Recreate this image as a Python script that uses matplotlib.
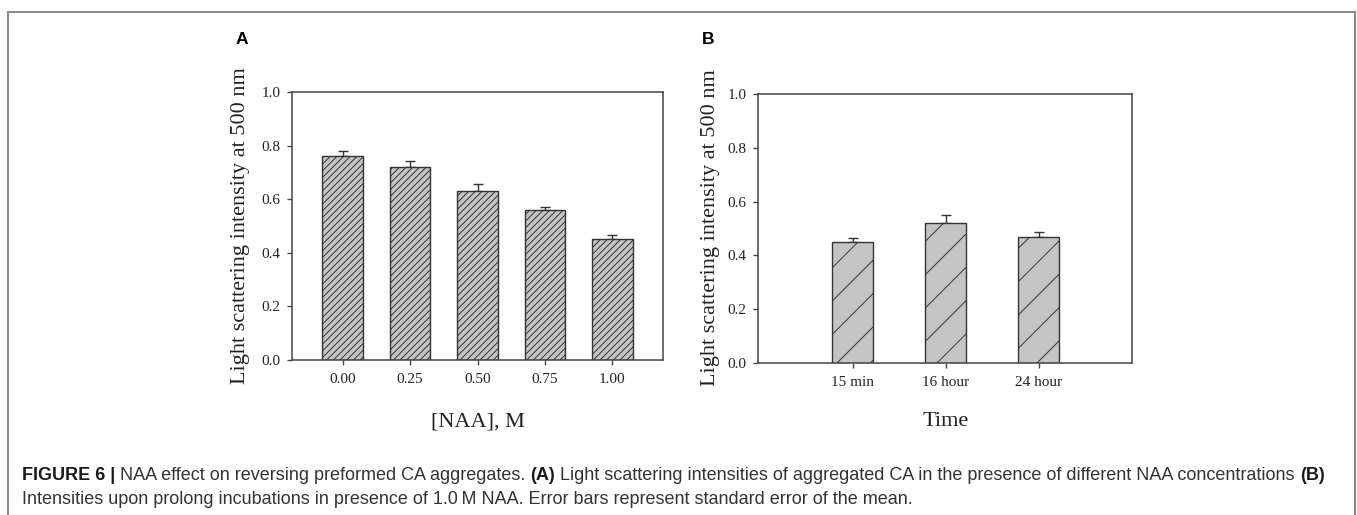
import numpy as np
import matplotlib
matplotlib.use("Agg")
import matplotlib.pyplot as plt
from matplotlib.lines import Line2D

# panel A data
naa_labels = ["0.00", "0.25", "0.50", "0.75", "1.00"]
naa_vals = [0.76, 0.72, 0.63, 0.56, 0.45]
naa_err = [0.020, 0.024, 0.027, 0.012, 0.015]

# panel B data
time_labels = ["15 min", "16 hour", "24 hour"]
time_vals = [0.45, 0.52, 0.47]
time_err = [0.015, 0.030, 0.018]

yticks = [0.0, 0.2, 0.4, 0.6, 0.8, 1.0]

W, H = 1357, 515
plt.rcParams['hatch.linewidth'] = 0.7
serif = 'Liberation Serif'
sans = 'Liberation Sans'
axcol = '#444444'

fig = plt.figure(figsize=(W / 100, H / 100), dpi=100)


def px_box(l, t, r, b):
    return [l / W, 1 - b / H, (r - l) / W, (b - t) / H]


def style_axis(ax):
    for s in ax.spines.values():
        s.set_color(axcol)
        s.set_linewidth(1.1)
    ax.tick_params(axis='both', direction='out', length=3.5, width=1,
                   color=axcol, top=False, right=False, labelsize=11)
    ax.tick_params(axis='y', pad=5)
    ax.tick_params(axis='x', pad=6)
    for lab in ax.get_xticklabels() + ax.get_yticklabels():
        lab.set_fontfamily(serif)
        lab.set_color('#222222')
    ax.set_ylim(0, 1.0)
    ax.set_yticks(yticks)
    ax.set_yticklabels([f"{v:.1f}" for v in yticks], fontfamily=serif)


# panel A
axA = fig.add_axes(px_box(292, 92, 663, 360))
xa = np.arange(len(naa_vals))
axA.bar(xa, naa_vals, width=0.6, color='#c4c4c4', edgecolor='#333333',
        linewidth=1.0, hatch='/////', zorder=2)
axA.errorbar(xa, naa_vals, yerr=[np.zeros(len(naa_err)), naa_err], fmt='none',
             ecolor='#333333', elinewidth=1.0, capsize=3.6, capthick=1.0, zorder=1)
axA.set_xlim(-0.75, 4.75)
axA.set_xticks(xa)
axA.set_xticklabels(naa_labels)
style_axis(axA)

# panel B
axB = fig.add_axes(px_box(758, 94, 1132, 363))
xb = np.arange(len(time_vals))
axB.bar(xb, time_vals, width=0.44, color='#c4c4c4', edgecolor='#333333',
        linewidth=1.0, hatch='/', zorder=2)
axB.errorbar(xb, time_vals, yerr=[np.zeros(len(time_err)), time_err], fmt='none',
             ecolor='#333333', elinewidth=1.0, capsize=3.6, capthick=1.0, zorder=1)
axB.set_xlim(-1.02, 3.0)
axB.set_xticks(xb)
axB.set_xticklabels(time_labels)
style_axis(axB)

# axis labels
ylab = "Light scattering intensity at 500 nm"
fig.text(240 / W, 1 - 226 / H, ylab, rotation=90, ha='center', va='center',
         fontsize=16, fontfamily=serif, color='#222222')
fig.text(710 / W, 1 - 228 / H, ylab, rotation=90, ha='center', va='center',
         fontsize=16, fontfamily=serif, color='#222222')
fig.text(478 / W, 1 - 422 / H, "[NAA], M", ha='center', va='center',
         fontsize=16, fontfamily=serif, color='#222222')
fig.text(946 / W, 1 - 422 / H, "Time", ha='center', va='center',
         fontsize=16, fontfamily=serif, color='#222222')

# panel letters
fig.text(242 / W, 1 - 39 / H, "A", ha='center', va='center', fontsize=12.5,
         fontweight='bold', fontfamily=sans, color='black')
fig.text(708 / W, 1 - 39 / H, "B", ha='center', va='center', fontsize=12.5,
         fontweight='bold', fontfamily=sans, color='black')

# frame around the figure
fcol = '#8a8a8a'
fig.add_artist(Line2D([8 / W, 1355 / W], [1 - 12 / H, 1 - 12 / H], color=fcol, lw=1.5))
fig.add_artist(Line2D([8 / W, 8 / W], [1 - 12 / H, 0], color=fcol, lw=1.5))
fig.add_artist(Line2D([1355 / W, 1355 / W], [1 - 12 / H, 0], color=fcol, lw=1.5))

# caption with mixed bold / regular runs
line1 = [("FIGURE 6 |", True), ("NAA effect on reversing preformed CA aggregates.", False),
         ("(A)", True),
         ("Light scattering intensities of aggregated CA in the presence of different NAA concentrations", False),
         ("(B)", True)]
line2 = [("Intensities upon prolong incubations in presence of 1.0\u2009M NAA. Error bars represent standard error of the mean.", False)]

renderer = fig.canvas.get_renderer()


def text_w(s, size, bold):
    t = fig.text(0, 0, s, fontsize=size, fontfamily=sans,
                 fontweight='bold' if bold else 'normal')
    w = t.get_window_extent(renderer).width
    t.remove()
    return w


def line_width(parts, size):
    sp = text_w("x x", size, False) - text_w("xx", size, False)
    return sum(text_w(s, size, b) for s, b in parts) + sp * (len(parts) - 1)


# fit caption line 1 into the measured span
base = 12
cap_size = base * (1328 - 22) / line_width(line1, base)


def draw_line(parts, x0, ycen, size):
    sp = text_w("x x", size, False) - text_w("xx", size, False)
    x = x0
    for s, b in parts:
        t = fig.text(x / W, 1 - ycen / H, s, fontsize=size, fontfamily=sans,
                     fontweight='bold' if b else 'normal', ha='left', va='center',
                     color='#1a1a1a' if b else '#333333')
        x += t.get_window_extent(renderer).width + sp


draw_line(line1, 22, 476, cap_size)
draw_line(line2, 22, 499, cap_size)

fig.savefig("out.png", dpi=100)
